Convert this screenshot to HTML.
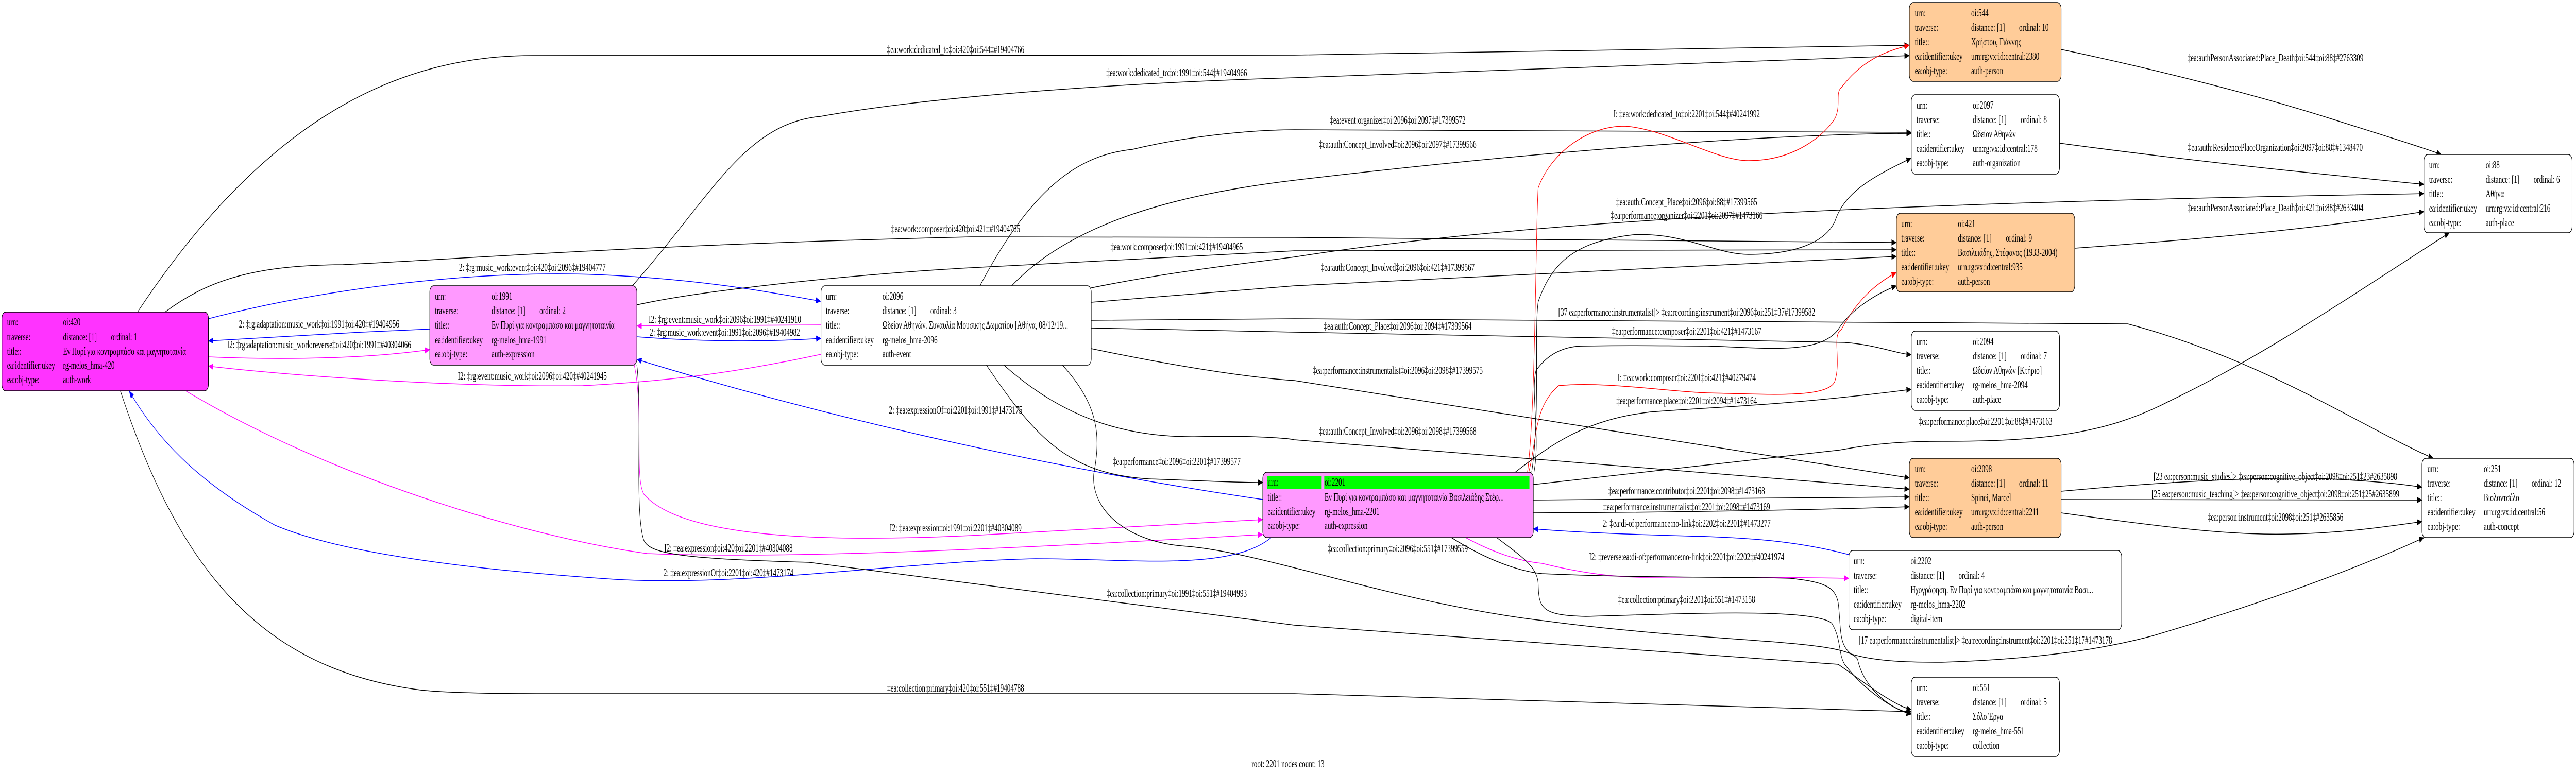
<!DOCTYPE html>
<html><head><meta charset="utf-8"><style>
html,body{margin:0;padding:0;background:#fff;width:100%;height:100%;overflow:hidden}
svg{display:block;width:100vw;height:100vh}
text{font-family:"Liberation Serif","DejaVu Serif",serif;font-size:21px;fill:#000;dominant-baseline:central}
.l{text-anchor:middle}
.e{fill:none;stroke-width:1.5}
.k{stroke:#000}.b{stroke:#0000ff}.m{stroke:#ff00ff}.r{stroke:#ff0000}
.n{stroke:#000;stroke-width:1.5}
</style></head><body>
<svg viewBox="0 0 7960 1505" preserveAspectRatio="none" xmlns="http://www.w3.org/2000/svg">
<defs>
<marker id="ak" markerWidth="16" markerHeight="12" refX="15" refY="6" orient="auto" markerUnits="userSpaceOnUse"><path d="M0,0 L16,6 L0,12 z" fill="#000"/></marker>
<marker id="ab" markerWidth="16" markerHeight="12" refX="15" refY="6" orient="auto" markerUnits="userSpaceOnUse"><path d="M0,0 L16,6 L0,12 z" fill="#0000ff"/></marker>
<marker id="am" markerWidth="16" markerHeight="12" refX="15" refY="6" orient="auto" markerUnits="userSpaceOnUse"><path d="M0,0 L16,6 L0,12 z" fill="#ff00ff"/></marker>
<marker id="ar" markerWidth="16" markerHeight="12" refX="15" refY="6" orient="auto" markerUnits="userSpaceOnUse"><path d="M0,0 L16,6 L0,12 z" fill="#ff0000"/></marker>
</defs>

<path class="e k" marker-end="url(#ak)" d="M425,606 C800,250 1200,108 1645,108 L4000,107 L5900,88"/>
<text class="l" x="2953" y="96">‡ea:work:dedicated_to‡oi:420‡oi:544‡#19404766</text>
<path class="e k" marker-end="url(#ak)" d="M1954,555 C2200,380 2300,240 2536,226 C2900,185 3500,160 4000,151 L5900,108"/>
<text class="l" x="3636" y="141">‡ea:work:dedicated_to‡oi:1991‡oi:544‡#19404966</text>
<path class="e k" marker-end="url(#ak)" d="M510,606 C650,540 800,515 1060,514 C1500,500 2000,475 3000,460 L4000,461 L5860,471"/>
<text class="l" x="2953" y="444">‡ea:work:composer‡oi:420‡oi:421‡#19404765</text>
<path class="e k" marker-end="url(#ak)" d="M1968,592 C2200,560 2700,530 3000,520 L4000,487 L5860,485"/>
<text class="l" x="3636" y="479">‡ea:work:composer‡oi:1991‡oi:421‡#19404965</text>

<path class="e b" marker-end="url(#ab)" d="M644,619 C1000,560 1500,520 1900,535 C2200,545 2400,570 2536,585"/>
<text class="l" x="1645" y="519">2: ‡rg:music_work:event‡oi:420‡oi:2096‡#19404777</text>
<path class="e b" marker-end="url(#ab)" d="M1328,639 C1100,645 900,652 644,662"/>
<text class="l" x="986" y="629">2: ‡rg:adaptation:music_work‡oi:1991‡oi:420‡#19404956</text>
<path class="e m" marker-end="url(#am)" d="M644,693 C900,700 1150,695 1328,679"/>
<text class="l" x="986" y="669">I2: ‡rg:adaptation:music_work:reverse‡oi:420‡oi:1991‡#40304066</text>
<path class="e m" marker-end="url(#am)" d="M2537,688 C2300,720 2100,739 1800,749 C1400,752 900,730 644,711"/>
<text class="l" x="1645" y="730">I2: ‡rg:event:music_work‡oi:2096‡oi:420‡#40241945</text>
<path class="e m" marker-end="url(#am)" d="M2537,631 L1968,633"/>
<text class="l" x="2240" y="620">I2: ‡rg:event:music_work‡oi:2096‡oi:1991‡#40241910</text>
<path class="e b" marker-end="url(#ab)" d="M1968,654 C2200,665 2400,663 2537,657"/>
<text class="l" x="2240" y="645">2: ‡rg:music_work:event‡oi:1991‡oi:2096‡#19404982</text>
<path class="e b" marker-end="url(#ab)" d="M3902,970 C3300,915 2600,820 1968,698"/>
<text class="l" x="2953" y="796">2: ‡ea:expressionOf‡oi:2201‡oi:1991‡#1473175</text>
<path class="e m" marker-end="url(#am)" d="M1960,709 C1990,800 1960,930 1990,960 C2100,1040 2500,1055 3000,1040 L3902,1009"/>
<text class="l" x="2953" y="1025">I2: ‡ea:expression‡oi:1991‡oi:2201‡#40304089</text>
<path class="e m" marker-end="url(#am)" d="M574,759 C1000,920 1600,1040 2000,1075 C2400,1085 3000,1070 3902,1038"/>
<text class="l" x="2251" y="1064">I2: ‡ea:expression‡oi:420‡oi:2201‡#40304088</text>
<path class="e b" marker-end="url(#ab)" d="M3928,1044 C3800,1110 3500,1085 3200,1085 C2800,1090 2300,1140 1900,1125 C1300,1100 1000,1060 850,1020 C650,950 500,870 399,759"/>
<text class="l" x="2251" y="1112">2: ‡ea:expressionOf‡oi:2201‡oi:420‡#1473174</text>
<path class="e k" marker-end="url(#ak)" d="M372,759 C550,1100 800,1300 1300,1340 C1400,1347 1600,1347 1700,1347 L4000,1347 L5906,1382"/>
<text class="l" x="2953" y="1336">‡ea:collection:primary‡oi:420‡oi:551‡#19404788</text>
<path class="e k" marker-end="url(#ak)" d="M1968,709 C1985,800 1960,1000 1990,1050 C2010,1075 2100,1085 2500,1092 L4000,1214 L5680,1290 C5750,1320 5850,1370 5906,1378"/>
<text class="l" x="3636" y="1152">‡ea:collection:primary‡oi:1991‡oi:551‡#19404993</text>
<path class="e k" marker-end="url(#ak)" d="M3048,709 C3200,850 3300,920 3550,930 C3700,933 3800,937 3902,937"/>
<text class="l" x="3636" y="896">‡ea:performance‡oi:2096‡oi:2201‡#17399577</text>
<path class="e k" marker-end="url(#ak)" d="M3283,709 C3400,790 3400,850 3380,920 C3370,990 3480,1050 3650,1060 C3900,1070 4300,1170 4765,1205 C5300,1250 5700,1240 5740,1280 C5760,1340 5850,1380 5906,1385"/>
<text class="l" x="4319" y="1065">‡ea:collection:primary‡oi:2096‡oi:551‡#17399559</text>
<path class="e k" marker-end="url(#ak)" d="M3028,555 C3200,350 3350,300 3500,290 C3700,260 3900,252 4000,252 L5906,257"/>
<text class="l" x="4319" y="233">‡ea:event:organizer‡oi:2096‡oi:2097‡#17399572</text>
<path class="e k" marker-end="url(#ak)" d="M3126,555 C3300,440 3600,380 4000,350 C4800,290 5500,260 5906,259"/>
<text class="l" x="4319" y="280">‡ea:auth:Concept_Involved‡oi:2096‡oi:2097‡#17399566</text>
<path class="e k" marker-end="url(#ak)" d="M3372,559 C3600,530 3800,515 4000,499 C4800,420 6000,392 7490,376"/>
<text class="l" x="5212" y="392">‡ea:auth:Concept_Place‡oi:2096‡oi:88‡#17399565</text>
<path class="e k" marker-end="url(#ak)" d="M3372,587 L4000,555 L5860,498"/>
<text class="l" x="4319" y="519">‡ea:auth:Concept_Involved‡oi:2096‡oi:421‡#17399567</text>
<path class="e k" marker-end="url(#ak)" d="M3372,622 L4000,619 L6575,629 C7000,700 7300,830 7519,890"/>
<text class="l" x="5212" y="606">[37 ea:performance:instrumentalist]&gt; ‡ea:recording:instrument‡oi:2096‡oi:251‡37#17399582</text>
<path class="e k" marker-end="url(#ak)" d="M3372,637 L4000,645 L5700,665 C5800,670 5850,685 5906,689"/>
<text class="l" x="4319" y="633">‡ea:auth:Concept_Place‡oi:2096‡oi:2094‡#17399564</text>
<path class="e k" marker-end="url(#ak)" d="M3372,677 C3700,720 3900,735 4000,739 L5900,928"/>
<text class="l" x="4319" y="719">‡ea:performance:instrumentalist‡oi:2096‡oi:2098‡#17399575</text>
<path class="e k" marker-end="url(#ak)" d="M3102,709 C3300,820 3500,850 3700,848 C3900,845 4000,853 4000,854 L5900,950"/>
<text class="l" x="4319" y="837">‡ea:auth:Concept_Involved‡oi:2096‡oi:2098‡#17399568</text>

<path class="e r" marker-end="url(#ar)" d="M4720,917 C4745,800 4745,450 4753,365 C4790,300 4900,245 5020,245 C5150,250 5300,312 5403,312 C5550,312 5640,260 5670,230 C5690,205 5670,180 5690,170 C5750,120 5820,100 5900,88"/>
<text class="l" x="5212" y="221">I: ‡ea:work:dedicated_to‡oi:2201‡oi:544‡#40241992</text>
<path class="e r" marker-end="url(#ar)" d="M4724,917 C4750,850 4740,790 4816,749 C4950,740 5150,760 5276,763 C5450,765 5650,775 5670,740 C5690,700 5660,650 5690,640 C5740,580 5800,550 5860,529"/>
<text class="l" x="5212" y="733">I: ‡ea:work:composer‡oi:2201‡oi:421‡#40279474</text>
<path class="e k" marker-end="url(#ak)" d="M4733,917 C4760,800 4740,650 4753,586 C4790,520 4850,470 5046,456 C5200,450 5300,494 5403,494 C5550,494 5640,470 5670,430 C5700,370 5800,340 5906,307"/>
<text class="l" x="5212" y="418">‡ea:performance:organizer‡oi:2201‡oi:2097‡#1473166</text>
<path class="e k" marker-end="url(#ak)" d="M4740,917 C4760,850 4730,760 4746,720 C4790,680 4850,672 4893,672 C5050,670 5150,672 5276,672 C5450,675 5620,690 5680,640 C5720,600 5800,570 5860,555"/>
<text class="l" x="5212" y="643">‡ea:performance:composer‡oi:2201‡oi:421‡#1473167</text>
<path class="e k" marker-end="url(#ak)" d="M4682,917 C4800,860 4900,815 5100,800 C5300,790 5531,787 5906,756"/>
<text class="l" x="5212" y="778">‡ea:performance:place‡oi:2201‡oi:2094‡#1473164</text>
<path class="e k" marker-end="url(#ak)" d="M4738,941 L5684,874 C5800,860 5900,857 6000,857 C6300,857 6500,845 6700,780 C7000,690 7300,560 7569,452"/>
<text class="l" x="6135" y="818">‡ea:performance:place‡oi:2201‡oi:88‡#1473163</text>
<path class="e k" marker-end="url(#ak)" d="M4738,971 L5900,965"/>
<text class="l" x="5212" y="953">‡ea:performance:contributor‡oi:2201‡oi:2098‡#1473168</text>
<path class="e k" marker-end="url(#ak)" d="M4738,996 C5200,995 5600,990 5900,984"/>
<text class="l" x="5212" y="984">‡ea:performance:instrumentalist‡oi:2201‡oi:2098‡#1473169</text>
<path class="e b" marker-end="url(#ab)" d="M5713,1077 C5550,1050 5400,1045 5276,1042 C5050,1038 4900,1035 4738,1027"/>
<text class="l" x="5212" y="1016">2: ‡ea:di-of:performance:no-link‡oi:2202‡oi:2201‡#1473277</text>
<path class="e m" marker-end="url(#am)" d="M4529,1044 C4620,1075 4700,1090 4765,1094 C4900,1115 5000,1121 5084,1121 C5400,1120 5600,1122 5713,1123"/>
<text class="l" x="5212" y="1081">I2: ‡reverse:ea:di-of:performance:no-link‡oi:2201‡oi:2202‡#40241974</text>
<path class="e k" marker-end="url(#ak)" d="M4625,1044 C4700,1080 4750,1100 4753,1133 C4755,1180 4760,1195 4900,1197 C5200,1192 5600,1180 5660,1210 C5690,1240 5680,1270 5700,1290 C5760,1340 5850,1378 5906,1387"/>
<text class="l" x="5212" y="1164">‡ea:collection:primary‡oi:2201‡oi:551‡#1473158</text>
<path class="e k" marker-end="url(#ak)" d="M4485,1044 C4600,1090 4700,1110 4765,1114 C5100,1123 5400,1120 5531,1123 C5640,1130 5670,1140 5680,1170 C5690,1220 5680,1250 5720,1270 C5800,1285 5900,1286 6000,1286 C6300,1280 6500,1260 6650,1235 C7000,1170 7300,1100 7490,1044"/>
<text class="l" x="6135" y="1243">[17 ea:performance:instrumentalist]&gt; ‡ea:recording:instrument‡oi:2201‡oi:251‡17#1473178</text>

<path class="e k" marker-end="url(#ak)" d="M6369,96 C6700,140 7000,190 7200,230 C7350,260 7480,285 7544,300"/>
<text class="l" x="7031" y="112">‡ea:authPersonAssociated:Place_Death‡oi:544‡oi:88‡#2763309</text>
<path class="e k" marker-end="url(#ak)" d="M6364,278 C6800,315 7200,340 7490,358"/>
<text class="l" x="7031" y="286">‡ea:auth:ResidencePlaceOrganization‡oi:2097‡oi:88‡#1348470</text>
<path class="e k" marker-end="url(#ak)" d="M6411,482 C6900,460 7200,440 7490,411"/>
<text class="l" x="7031" y="403">‡ea:authPersonAssociated:Place_Death‡oi:421‡oi:88‡#2633404</text>
<path class="e k" marker-end="url(#ak)" d="M6369,954 C6700,935 7000,925 7200,930 C7350,935 7420,940 7484,946"/>
<text class="l" x="7031" y="925">[23 ea:person:music_studies]&gt; ‡ea:person:cognitive_object‡oi:2098‡oi:251‡23#2635898</text>
<path class="e k" marker-end="url(#ak)" d="M6369,970 C6800,972 7200,972 7484,971"/>
<text class="l" x="7031" y="959">[25 ea:person:music_teaching]&gt; ‡ea:person:cognitive_object‡oi:2098‡oi:251‡25#2635899</text>
<path class="e k" marker-end="url(#ak)" d="M6369,996 C6700,1025 6900,1040 7075,1037 C7250,1035 7380,1022 7484,1013"/>
<text class="l" x="7031" y="1004">‡ea:person:instrument‡oi:2098‡oi:251‡#2635856</text>

<g>
<rect class="n" x="6" y="606" width="638" height="153" rx="12" fill="#ff33ff"/>
<text x="22" y="625">urn:</text><text x="195" y="625">oi:420</text>
<text x="22" y="654">traverse:</text><text x="195" y="654">distance: [1]</text><text x="343" y="654">ordinal: 1</text>
<text x="22" y="682">title::</text><text x="195" y="682">Εν Πυρί για κοντραμπάσο και μαγνητοταινία</text>
<text x="22" y="709">ea:identifier:ukey</text><text x="195" y="709">rg-melos_hma-420</text>
<text x="22" y="737">ea:obj-type:</text><text x="195" y="737">auth-work</text>
</g>
<g>
<rect class="n" x="1328" y="555" width="640" height="154" rx="12" fill="#ff99ff"/>
<text x="1344" y="575">urn:</text><text x="1519" y="575">oi:1991</text>
<text x="1344" y="603">traverse:</text><text x="1519" y="603">distance: [1]</text><text x="1667" y="603">ordinal: 2</text>
<text x="1344" y="631">title::</text><text x="1519" y="631">Εν Πυρί για κοντραμπάσο και μαγνητοταινία</text>
<text x="1344" y="660">ea:identifier:ukey</text><text x="1519" y="660">rg-melos_hma-1991</text>
<text x="1344" y="687">ea:obj-type:</text><text x="1519" y="687">auth-expression</text>
</g>
<g>
<rect class="n" x="2537" y="555" width="835" height="154" rx="12" fill="#fff"/>
<text x="2552" y="575">urn:</text><text x="2727" y="575">oi:2096</text>
<text x="2552" y="603">traverse:</text><text x="2727" y="603">distance: [1]</text><text x="2875" y="603">ordinal: 3</text>
<text x="2552" y="631">title::</text><text x="2727" y="631">Ωδείον Αθηνών. Συναυλία Μουσικής Δωματίου [Αθήνα, 08/12/19...</text>
<text x="2552" y="660">ea:identifier:ukey</text><text x="2727" y="660">rg-melos_hma-2096</text>
<text x="2552" y="687">ea:obj-type:</text><text x="2727" y="687">auth-event</text>
</g>
<g>
<rect class="n" x="3902" y="917" width="836" height="127" rx="12" fill="#ff99ff"/>
<rect x="3916" y="924" width="168" height="26" fill="#00ff00"/><rect x="4092" y="924" width="634" height="26" fill="#00ff00"/>
<text x="3917" y="936">urn:</text><text x="4093" y="936">oi:2201</text>
<text x="3917" y="965">title::</text><text x="4093" y="965">Εν Πυρί για κοντραμπάσο και μαγνητοταινία Βασιλειάδης Στέφ...</text>
<text x="3917" y="993">ea:identifier:ukey</text><text x="4093" y="993">rg-melos_hma-2201</text>
<text x="3917" y="1020">ea:obj-type:</text><text x="4093" y="1020">auth-expression</text>
</g>
<g>
<rect class="n" x="5900" y="5" width="469" height="153" rx="12" fill="#ffcc99"/>
<text x="5917" y="25">urn:</text><text x="6091" y="25">oi:544</text>
<text x="5917" y="53">traverse:</text><text x="6091" y="53">distance: [1]</text><text x="6239" y="53">ordinal: 10</text>
<text x="5917" y="81">title::</text><text x="6091" y="81">Χρήστου, Γιάννης</text>
<text x="5917" y="109">ea:identifier:ukey</text><text x="6091" y="109">urn:rg:vx:id:central:2380</text>
<text x="5917" y="137">ea:obj-type:</text><text x="6091" y="137">auth-person</text>
</g>
<g>
<rect class="n" x="5906" y="184" width="458" height="154" rx="12" fill="#fff"/>
<text x="5922" y="204">urn:</text><text x="6096" y="204">oi:2097</text>
<text x="5922" y="232">traverse:</text><text x="6096" y="232">distance: [1]</text><text x="6244" y="232">ordinal: 8</text>
<text x="5922" y="260">title::</text><text x="6096" y="260">Ωδείον Αθηνών</text>
<text x="5922" y="288">ea:identifier:ukey</text><text x="6096" y="288">urn:rg:vx:id:central:178</text>
<text x="5922" y="316">ea:obj-type:</text><text x="6096" y="316">auth-organization</text>
</g>
<g>
<rect class="n" x="5860" y="414" width="551" height="153" rx="12" fill="#ffcc99"/>
<text x="5875" y="434">urn:</text><text x="6050" y="434">oi:421</text>
<text x="5875" y="462">traverse:</text><text x="6050" y="462">distance: [1]</text><text x="6198" y="462">ordinal: 9</text>
<text x="5875" y="490">title::</text><text x="6050" y="490">Βασιλειάδης, Στέφανος (1933-2004)</text>
<text x="5875" y="518">ea:identifier:ukey</text><text x="6050" y="518">urn:rg:vx:id:central:935</text>
<text x="5875" y="546">ea:obj-type:</text><text x="6050" y="546">auth-person</text>
</g>
<g>
<rect class="n" x="5906" y="643" width="458" height="154" rx="12" fill="#fff"/>
<text x="5922" y="663">urn:</text><text x="6096" y="663">oi:2094</text>
<text x="5922" y="691">traverse:</text><text x="6096" y="691">distance: [1]</text><text x="6244" y="691">ordinal: 7</text>
<text x="5922" y="719">title::</text><text x="6096" y="719">Ωδείον Αθηνών [Κτήριο]</text>
<text x="5922" y="747">ea:identifier:ukey</text><text x="6096" y="747">rg-melos_hma-2094</text>
<text x="5922" y="775">ea:obj-type:</text><text x="6096" y="775">auth-place</text>
</g>
<g>
<rect class="n" x="5900" y="890" width="469" height="154" rx="12" fill="#ffcc99"/>
<text x="5917" y="910">urn:</text><text x="6091" y="910">oi:2098</text>
<text x="5917" y="938">traverse:</text><text x="6091" y="938">distance: [1]</text><text x="6239" y="938">ordinal: 11</text>
<text x="5917" y="966">title::</text><text x="6091" y="966">Spinei, Marcel</text>
<text x="5917" y="994">ea:identifier:ukey</text><text x="6091" y="994">urn:rg:vx:id:central:2211</text>
<text x="5917" y="1022">ea:obj-type:</text><text x="6091" y="1022">auth-person</text>
</g>
<g>
<rect class="n" x="5713" y="1069" width="843" height="154" rx="12" fill="#fff"/>
<text x="5728" y="1089">urn:</text><text x="5904" y="1089">oi:2202</text>
<text x="5728" y="1117">traverse:</text><text x="5904" y="1117">distance: [1]</text><text x="6052" y="1117">ordinal: 4</text>
<text x="5728" y="1145">title::</text><text x="5904" y="1145">Ηχογράφηση. Εν Πυρί για κοντραμπάσο και μαγνητοταινία Βασι...</text>
<text x="5728" y="1173">ea:identifier:ukey</text><text x="5904" y="1173">rg-melos_hma-2202</text>
<text x="5728" y="1201">ea:obj-type:</text><text x="5904" y="1201">digital-item</text>
</g>
<g>
<rect class="n" x="5906" y="1315" width="458" height="154" rx="12" fill="#fff"/>
<text x="5922" y="1335">urn:</text><text x="6096" y="1335">oi:551</text>
<text x="5922" y="1363">traverse:</text><text x="6096" y="1363">distance: [1]</text><text x="6244" y="1363">ordinal: 5</text>
<text x="5922" y="1391">title::</text><text x="6096" y="1391">Σόλο Έργα</text>
<text x="5922" y="1419">ea:identifier:ukey</text><text x="6096" y="1419">rg-melos_hma-551</text>
<text x="5922" y="1447">ea:obj-type:</text><text x="6096" y="1447">collection</text>
</g>
<g>
<rect class="n" x="7490" y="300" width="458" height="152" rx="12" fill="#fff"/>
<text x="7506" y="320">urn:</text><text x="7681" y="320">oi:88</text>
<text x="7506" y="348">traverse:</text><text x="7681" y="348">distance: [1]</text><text x="7829" y="348">ordinal: 6</text>
<text x="7506" y="376">title::</text><text x="7681" y="376">Αθήνα</text>
<text x="7506" y="404">ea:identifier:ukey</text><text x="7681" y="404">urn:rg:vx:id:central:216</text>
<text x="7506" y="432">ea:obj-type:</text><text x="7681" y="432">auth-place</text>
</g>
<g>
<rect class="n" x="7484" y="890" width="470" height="154" rx="12" fill="#fff"/>
<text x="7501" y="910">urn:</text><text x="7675" y="910">oi:251</text>
<text x="7501" y="938">traverse:</text><text x="7675" y="938">distance: [1]</text><text x="7823" y="938">ordinal: 12</text>
<text x="7501" y="966">title::</text><text x="7675" y="966">Βιολοντσέλο</text>
<text x="7501" y="994">ea:identifier:ukey</text><text x="7675" y="994">urn:rg:vx:id:central:56</text>
<text x="7501" y="1022">ea:obj-type:</text><text x="7675" y="1022">auth-concept</text>
</g>

<text class="l" x="3980" y="1483">root: 2201 nodes count: 13</text>
</svg>
</body></html>
